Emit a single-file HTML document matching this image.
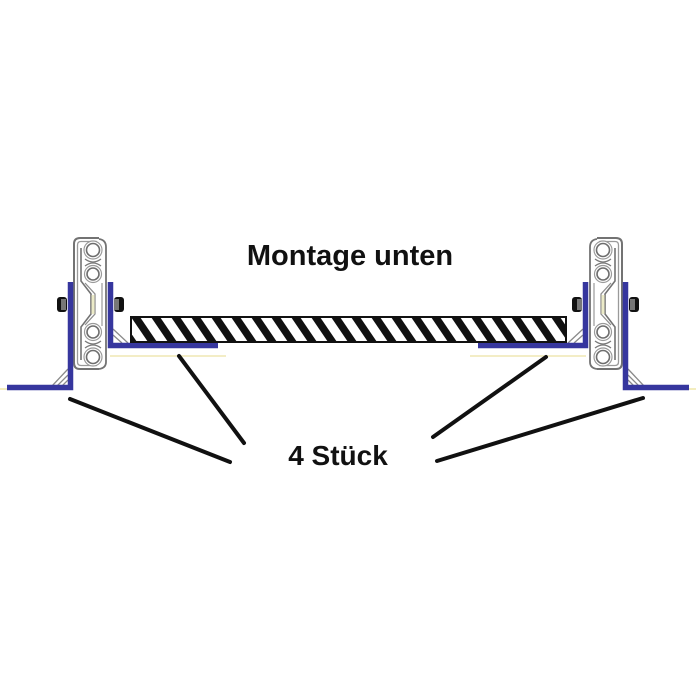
<!DOCTYPE html>
<html><head><meta charset="utf-8"><style>
html,body{margin:0;padding:0;background:#fff;}
svg{display:block;}
</style></head><body>
<svg width="700" height="700" viewBox="0 0 700 700" xmlns="http://www.w3.org/2000/svg">
<defs>
<clipPath id="pc"><rect x="132" y="318" width="433" height="23"/></clipPath>
<g id="side">
  <!-- faint yellow -->
  <line x1="0" y1="389" x2="62" y2="389" stroke="#f3edbf" stroke-width="2"/>
  <line x1="110" y1="356" x2="226" y2="356" stroke="#f3edc6" stroke-width="2"/>
  <!-- gussets -->
  <path d="M52 386 L68 369 M57 386 L68 375 M62 386 L68 380" stroke="#8a8a8a" stroke-width="1.3" fill="none"/>
  <path d="M113 329 L128 343 M113 335 L122 343" stroke="#8a8a8a" stroke-width="1.3" fill="none"/>
  <!-- rail outer C member -->
  <path d="M99 238 L80 238 Q74 238 74 244 L74 363 Q74 369 80 369 L99 369" fill="none" stroke="#737373" stroke-width="2"/>
  <path d="M97 241.5 L81 241.5 Q77.5 241.5 77.5 245 L77.5 362 Q77.5 365.5 81 365.5 L97 365.5" fill="none" stroke="#9a9a9a" stroke-width="1.3"/>
  <!-- right member -->
  <path d="M99 239 Q106 240 106 247 L106 362 Q106 368 99 369" fill="none" stroke="#737373" stroke-width="1.8"/>
  <!-- middle Z profile -->
  <path d="M81 248 L81 281 L91 294 L91 314 L81 327 L81 360" fill="none" stroke="#737373" stroke-width="1.6"/>
  <path d="M85 283 L95 294 L95 314 L85 325" fill="none" stroke="#8e8e8e" stroke-width="1.3"/>
  <path d="M102 283 L102 326" fill="none" stroke="#9a9a9a" stroke-width="1.2"/>
  <path d="M91.5 295 L91.5 314 L94.5 314 L94.5 295 Z" fill="#ecebc8"/>
  <!-- balls -->
  <g fill="#fff" stroke="#9a9a9a" stroke-width="1.2">
    <circle cx="93" cy="250" r="9"/>
    <circle cx="93" cy="274" r="8.5"/>
    <circle cx="93" cy="332" r="8.5"/>
    <circle cx="93" cy="357" r="9"/>
  </g>
  <g fill="#fff" stroke="#6e6e6e" stroke-width="1.6">
    <circle cx="93" cy="250" r="6.5"/>
    <circle cx="93" cy="274" r="6"/>
    <circle cx="93" cy="332" r="6"/>
    <circle cx="93" cy="357" r="6.5"/>
  </g>
  <path d="M85 259 Q93 265 101 259 M85 266 Q93 260 101 266 M85 341 Q93 347 101 341 M85 348 Q93 342 101 348" stroke="#7a7a7a" stroke-width="1.3" fill="none"/>
  <!-- nuts -->
  <rect x="57" y="297" width="10" height="15" rx="3" fill="#111"/>
  <rect x="61" y="299" width="5" height="11" fill="#777"/>
  <rect x="114" y="297" width="10" height="15" rx="3" fill="#111"/>
  <rect x="114" y="299" width="5" height="11" fill="#777"/>
  <!-- blue angles -->
  <path d="M70.5 282 L70.5 387.5 L7 387.5" fill="none" stroke="#36369e" stroke-width="5.5"/>
  <path d="M110.5 282 L110.5 345.5 L218 345.5" fill="none" stroke="#36369e" stroke-width="5.5"/>
</g>
</defs>

<use href="#side"/>
<use href="#side" transform="translate(696,0) scale(-1,1)"/>

<!-- panel -->
<rect x="131" y="317" width="435" height="25" fill="#fff" stroke="#111" stroke-width="2"/>
<g clip-path="url(#pc)" fill="#111">
  <polygon points="111,317 120,317 137,342 128,342"/>
  <polygon points="131,317 140,317 157,342 148,342"/>
  <polygon points="151,317 160,317 177,342 168,342"/>
  <polygon points="171,317 180,317 197,342 188,342"/>
  <polygon points="191,317 200,317 217,342 208,342"/>
  <polygon points="211,317 220,317 237,342 228,342"/>
  <polygon points="231,317 240,317 257,342 248,342"/>
  <polygon points="251,317 260,317 277,342 268,342"/>
  <polygon points="271,317 280,317 297,342 288,342"/>
  <polygon points="291,317 300,317 317,342 308,342"/>
  <polygon points="311,317 320,317 337,342 328,342"/>
  <polygon points="331,317 340,317 357,342 348,342"/>
  <polygon points="351,317 360,317 377,342 368,342"/>
  <polygon points="371,317 380,317 397,342 388,342"/>
  <polygon points="391,317 400,317 417,342 408,342"/>
  <polygon points="411,317 420,317 437,342 428,342"/>
  <polygon points="431,317 440,317 457,342 448,342"/>
  <polygon points="451,317 460,317 477,342 468,342"/>
  <polygon points="471,317 480,317 497,342 488,342"/>
  <polygon points="491,317 500,317 517,342 508,342"/>
  <polygon points="511,317 520,317 537,342 528,342"/>
  <polygon points="531,317 540,317 557,342 548,342"/>
  <polygon points="551,317 560,317 577,342 568,342"/>
</g>
<rect x="131" y="317" width="435" height="25" fill="none" stroke="#111" stroke-width="2"/>

<!-- leader lines -->
<g stroke="#111" stroke-width="4" stroke-linecap="round">
  <line x1="70" y1="399" x2="230" y2="462"/>
  <line x1="179" y1="356" x2="244" y2="443"/>
  <line x1="546" y1="357" x2="433" y2="437"/>
  <line x1="643" y1="398" x2="437" y2="461"/>
</g>

<text x="350" y="265" text-anchor="middle" font-family="Liberation Sans, sans-serif" font-weight="bold" font-size="29" fill="#111">Montage unten</text>
<text x="338" y="465" text-anchor="middle" font-family="Liberation Sans, sans-serif" font-weight="bold" font-size="28" fill="#111">4 Stück</text>
</svg>
</body></html>
